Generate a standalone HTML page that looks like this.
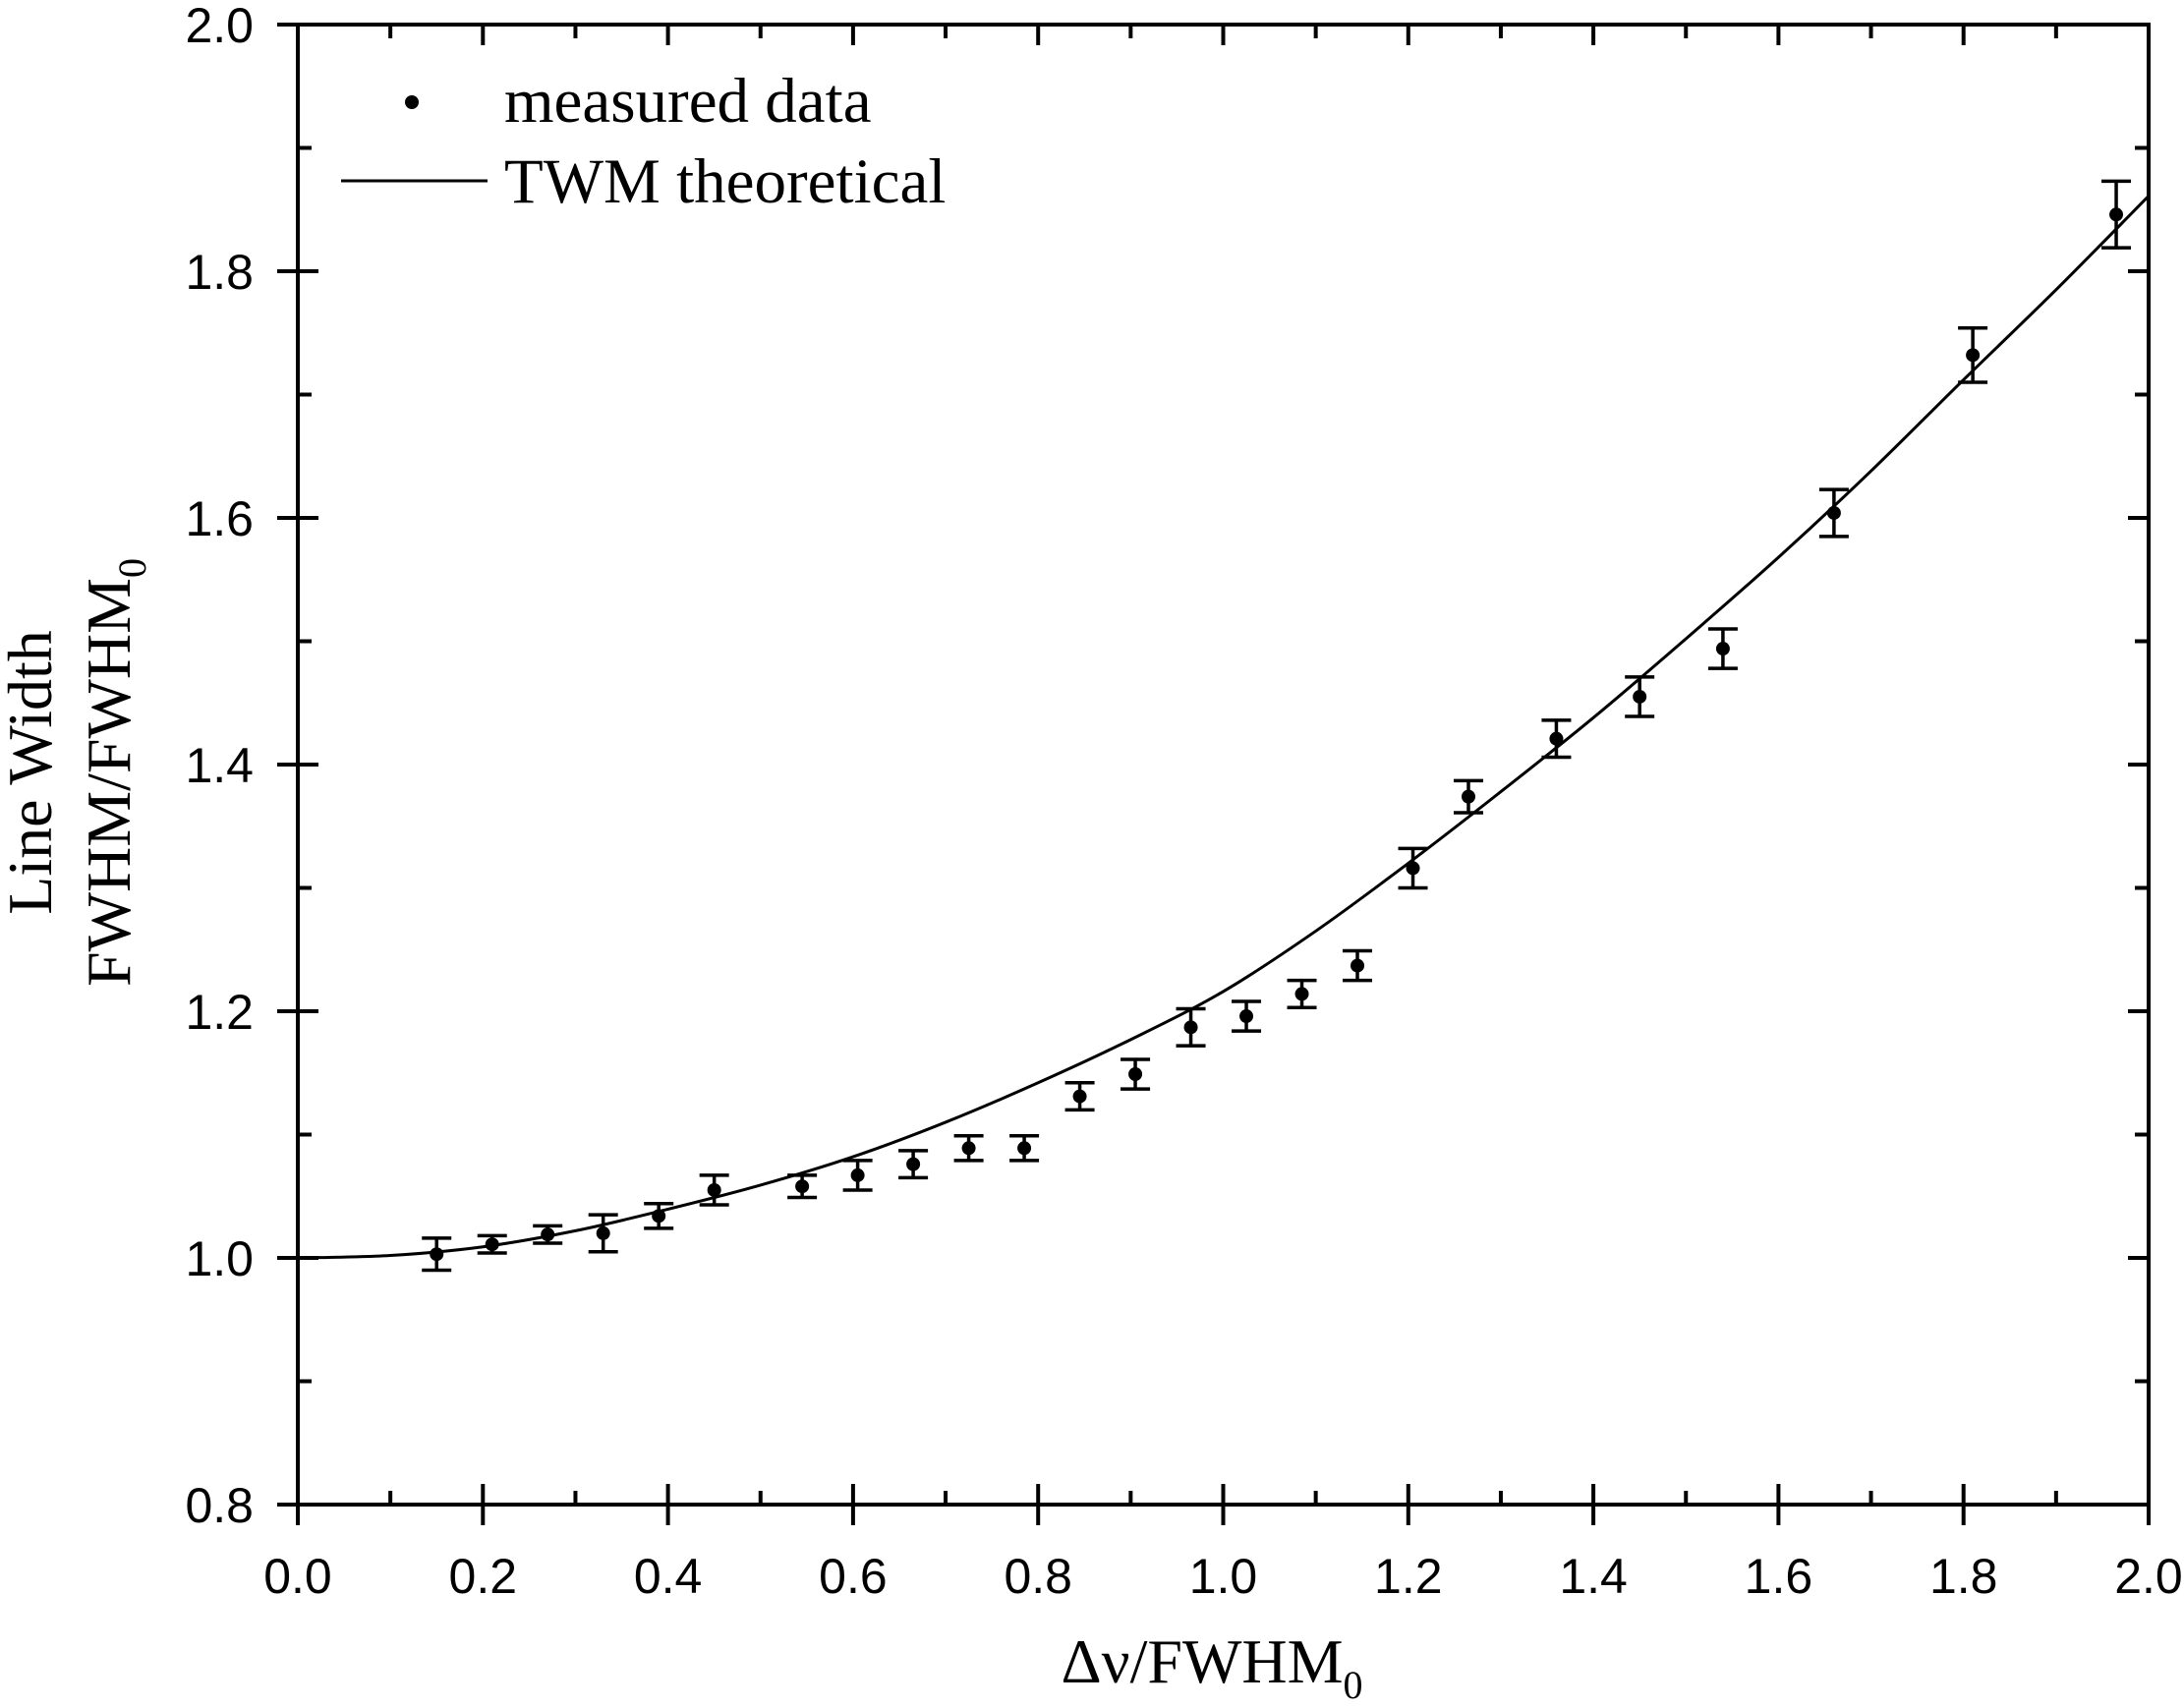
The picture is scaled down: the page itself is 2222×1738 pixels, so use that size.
<!DOCTYPE html>
<html><head><meta charset="utf-8"><style>
html,body{margin:0;padding:0;background:#fff;}
svg{display:block;}
</style></head><body>
<svg id="chart" width="2222" height="1738" viewBox="0 0 2222 1738" xmlns="http://www.w3.org/2000/svg">
<g id="ticks"></g>
<g id="curve-g"></g>
<g id="points-g"></g>
<rect x="303" y="25" width="1883" height="1506" fill="none" stroke="#000" stroke-width="4"/>
<g>
<circle cx="419" cy="104" r="7" fill="#000"/>
<text x="513" y="124" font-family="Liberation Serif, serif" font-size="65">measured data</text>
<line x1="347" y1="184" x2="496" y2="184" stroke="#000" stroke-width="3"/>
<text x="513" y="206" font-family="Liberation Serif, serif" font-size="65">TWM theoretical</text>
</g>
<text x="1233" y="1712" text-anchor="middle" font-family="Liberation Serif, serif" font-size="64">Δν/FWHM<tspan font-size="40" dy="16">0</tspan></text>
<g transform="translate(0,786) rotate(-90)">
<text x="0" y="52" text-anchor="middle" font-family="Liberation Serif, serif" font-size="64">Line Width</text>
<text x="0" y="132" text-anchor="middle" font-family="Liberation Serif, serif" font-size="64">FWHM/FWHM<tspan font-size="40" dy="16">0</tspan></text>
</g>
</svg>
<script>
const xTicks=[0,0.2,0.4,0.6,0.8,1.0,1.2,1.4,1.6,1.8,2.0];
const yTicks=[0.8,1.0,1.2,1.4,1.6,1.8,2.0];
const dataX=[0.15,0.21,0.27,0.33,0.39,0.45,0.545,0.605,0.665,0.725,0.785,0.845,0.905,0.965,1.025,1.085,1.145,1.205,1.265,1.36,1.45,1.54,1.66,1.81,1.965];
const dataY=[1.003,1.011,1.019,1.02,1.034,1.055,1.058,1.067,1.076,1.089,1.089,1.131,1.149,1.187,1.196,1.214,1.237,1.316,1.374,1.421,1.455,1.494,1.604,1.732,1.846];
const dataErr=[0.013,0.007,0.007,0.015,0.01,0.012,0.009,0.012,0.011,0.01,0.01,0.011,0.012,0.015,0.012,0.011,0.012,0.016,0.013,0.015,0.016,0.016,0.019,0.022,0.027];
const curveX=[0,0.1,0.2,0.3,0.4,0.5,0.6,0.7,0.8,0.9,1.0,1.1,1.2,1.3,1.4,1.5,1.6,1.7,1.8,1.9,2.0];
const curveY=[1.0,1.002,1.009,1.022,1.0395,1.059,1.082,1.11,1.142,1.177,1.216,1.265,1.32,1.378,1.438,1.502,1.568,1.638,1.712,1.785,1.861];
const L=303,R=2186,T=25,B=1531;
function sx(v){return L+(v-0)/(2-0)*(R-L);}
function sy(v){return B-(v-0.8)/(2.0-0.8)*(B-T);}
const NS='http://www.w3.org/2000/svg';
function mk(tag,attrs,parent){const e=document.createElementNS(NS,tag);for(const k in attrs)e.setAttribute(k,attrs[k]);parent.appendChild(e);return e;}
const tg=document.getElementById('ticks');
for(let i=0;i<xTicks.length;i++){
 const x=sx(xTicks[i]);
 const t=mk('line',{x1:x,y1:B+21,x2:x,y2:B-21,stroke:'#000','stroke-width':4},tg);
 
 
 const t2=mk('line',{x1:x,y1:T,x2:x,y2:T+21,stroke:'#000','stroke-width':4},tg);
 
 
 const lb=mk('text',{x:x,y:B+90,'text-anchor':'middle','font-family':'Liberation Sans, sans-serif','font-size':50},tg);
 lb.textContent=xTicks[i].toFixed(1);
 
 
 if(i<xTicks.length-1){
  const xm=sx((xTicks[i]+xTicks[i+1])/2);
  const m=mk('line',{x1:xm,y1:B+1,x2:xm,y2:B-14,stroke:'#000','stroke-width':4},tg);
  
  
  const m2=mk('line',{x1:xm,y1:T,x2:xm,y2:T+14,stroke:'#000','stroke-width':4},tg);
  
  
 }
}
for(let i=0;i<yTicks.length;i++){
 const y=sy(yTicks[i]);
 const t=mk('line',{x1:L-21,y1:y,x2:L+21,y2:y,stroke:'#000','stroke-width':4},tg);
 
 
 const t2=mk('line',{x1:R-21,y1:y,x2:R,y2:y,stroke:'#000','stroke-width':4},tg);
 
 
 const lb=mk('text',{x:L-45,y:y+18,'text-anchor':'end','font-family':'Liberation Sans, sans-serif','font-size':50},tg);
 lb.textContent=yTicks[i].toFixed(1);
 
 
 if(i<yTicks.length-1){
  const ym=sy((yTicks[i]+yTicks[i+1])/2);
  const m=mk('line',{x1:L,y1:ym,x2:L+14,y2:ym,stroke:'#000','stroke-width':4},tg);
  
  
  const m2=mk('line',{x1:R-14,y1:ym,x2:R,y2:ym,stroke:'#000','stroke-width':4},tg);
  
  
 }
}
const px=curveX.map(sx),py=curveY.map(sy);
let d='M'+px[0]+' '+py[0];
for(let i=0;i<px.length-1;i++){
 const x0=px[Math.max(i-1,0)],y0=py[Math.max(i-1,0)],x3=px[Math.min(i+2,px.length-1)],y3=py[Math.min(i+2,px.length-1)];
 const c1x=px[i]+(px[i+1]-x0)/6,c1y=py[i]+(py[i+1]-y0)/6,c2x=px[i+1]-(x3-px[i])/6,c2y=py[i+1]-(y3-py[i])/6;
 d+=' C'+c1x+' '+c1y+' '+c2x+' '+c2y+' '+px[i+1]+' '+py[i+1];
}
const cp=mk('path',{d:d,fill:'none',stroke:'#000','stroke-width':3},document.getElementById('curve-g'));


const pg=document.getElementById('points-g');
for(let i=0;i<dataX.length;i++){
 const x=sx(dataX[i]),y=sy(dataY[i]),yt=sy(dataY[i]+dataErr[i]),yb=sy(dataY[i]-dataErr[i]);
 const g=mk('g',{},pg);
 
 
 mk('line',{x1:x,y1:yt,x2:x,y2:yb,stroke:'#000','stroke-width':3.5},g);
 mk('line',{x1:x-15,y1:yt,x2:x+15,y2:yt,stroke:'#000','stroke-width':3.5},g);
 mk('line',{x1:x-15,y1:yb,x2:x+15,y2:yb,stroke:'#000','stroke-width':3.5},g);
 mk('circle',{cx:x,cy:y,r:7,fill:'#000'},g);
}
</script>
</body></html>
